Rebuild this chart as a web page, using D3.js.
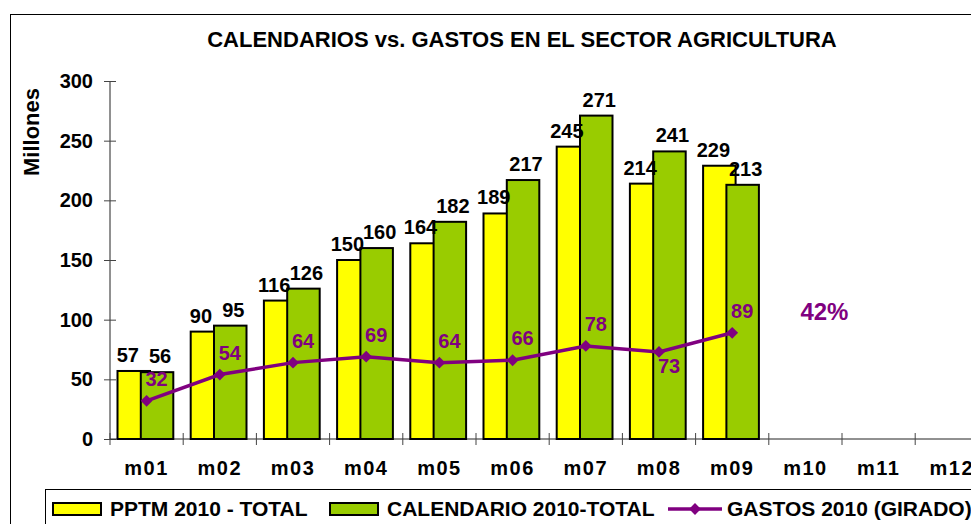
<!DOCTYPE html>
<html>
<head>
<meta charset="utf-8">
<script src="https://cdn.jsdelivr.net/npm/d3@7"></script>
<style>
  body { margin: 0; background: #fff; }
  svg { display: block; font-family: "Liberation Sans", Arial, sans-serif; }
  text { font-weight: bold; }
</style>
</head>
<body>
<svg id="chart"></svg>
<script>
// data (millones)
const months = ["m01", "m02", "m03", "m04", "m05", "m06", "m07", "m08", "m09", "m10", "m11", "m12"];
const pptm = [57, 90, 116, 150, 164, 189, 245, 214, 229];
const calendario = [56, 95, 126, 160, 182, 217, 271, 241, 213];
const gastos = [32, 54, 64, 69, 64, 66, 78, 73, 89];
const gastosBelow = ["m08"];          // labels that sit under the marker
const yTicks = [0, 50, 100, 150, 200, 250, 300];
const shareLabel = "42%";

const W = 971, H = 524;
const svg = d3.select("#chart").attr("width", W).attr("height", H);

// outer chart frame (runs off the right/bottom edge)
svg.append("rect")
  .attr("x", 10.5).attr("y", 14.5)
  .attr("width", 1000).attr("height", 600)
  .attr("fill", "#fff").attr("stroke", "#000");

svg.append("text")
  .attr("x", 522).attr("y", 47)
  .attr("text-anchor", "middle")
  .style("font-size", "22px")
  .text("CALENDARIOS vs. GASTOS EN EL SECTOR AGRICULTURA");

const x = d3.scaleBand().domain(months).range([110, 110 + 12 * 73.2]);
const y = d3.scaleLinear().domain([0, 300]).range([439, 81]);

const barW = 32.5, offY = 7.5, offG = 30.8;

// y axis with cross ticks
const yAxis = svg.append("g")
  .attr("transform", "translate(110,0)")
  .call(d3.axisLeft(y).tickValues(yTicks).tickSize(6).tickPadding(11));
yAxis.select(".domain").attr("d", `M0,${y(300)}V${y(0)}`).attr("stroke", "#222");
yAxis.selectAll(".tick line").attr("x1", -6).attr("x2", 6).attr("stroke", "#444");
yAxis.selectAll(".tick text")
  .attr("fill", "#000")
  .style("font-size", "20px")
  .style("font-family", "Liberation Sans, Arial, sans-serif");

svg.append("text")
  .attr("transform", "translate(39,132) rotate(-90)")
  .attr("text-anchor", "middle")
  .style("font-size", "22px")
  .text("Millones");

// x axis: labels at band centres, ticks on band boundaries
const xAxis = svg.append("g")
  .attr("transform", `translate(0,${y(0)})`)
  .call(d3.axisBottom(x).tickSize(0).tickPadding(22));
xAxis.select(".domain").attr("d", `M110,0H${W + 20}`).attr("stroke", "#222");
xAxis.selectAll(".tick text")
  .attr("fill", "#000")
  .style("font-size", "20px")
  .style("letter-spacing", "1.5px")
  .style("font-family", "Liberation Sans, Arial, sans-serif");
xAxis.selectAll("line.bound")
  .data(months)
  .enter().append("line")
  .attr("class", "bound")
  .attr("x1", d => x(d)).attr("x2", d => x(d))
  .attr("y1", -6).attr("y2", 6)
  .attr("stroke", "#444");

// bars
svg.append("g").selectAll("rect")
  .data(pptm)
  .enter().append("rect")
  .attr("x", (d, i) => x(months[i]) + offY)
  .attr("y", d => y(d))
  .attr("width", barW)
  .attr("height", d => y(0) - y(d))
  .attr("fill", "#ffff00")
  .attr("stroke", "#000")
  .attr("stroke-width", 2);

svg.append("g").selectAll("rect")
  .data(calendario)
  .enter().append("rect")
  .attr("x", (d, i) => x(months[i]) + offG)
  .attr("y", d => y(d))
  .attr("width", barW)
  .attr("height", d => y(0) - y(d))
  .attr("fill", "#99cc00")
  .attr("stroke", "#000")
  .attr("stroke-width", 2);

// bar value labels
svg.append("g").selectAll("text")
  .data(pptm)
  .enter().append("text")
  .attr("x", (d, i) => x(months[i]) + offY + barW / 2 - 6)
  .attr("y", d => y(d) - 9)
  .attr("text-anchor", "middle")
  .style("font-size", "20px")
  .text(d => d);

svg.append("g").selectAll("text")
  .data(calendario)
  .enter().append("text")
  .attr("x", (d, i) => x(months[i]) + offG + barW / 2 + 3)
  .attr("y", d => y(d) - 9)
  .attr("text-anchor", "middle")
  .style("font-size", "20px")
  .text(d => d);

// gastos line
const cx = (d, i) => x(months[i]) + x.bandwidth() / 2;
const line = d3.line().x(cx).y(d => y(d));
svg.append("path")
  .datum(gastos)
  .attr("d", line)
  .attr("fill", "none")
  .attr("stroke", "#800080")
  .attr("stroke-width", 3.5);

svg.append("g").selectAll("path")
  .data(gastos)
  .enter().append("path")
  .attr("transform", (d, i) => `translate(${cx(d, i)},${y(d)}) rotate(45)`)
  .attr("d", d3.symbol(d3.symbolSquare, 70))
  .attr("fill", "#800080");

svg.append("g").selectAll("text")
  .data(gastos)
  .enter().append("text")
  .attr("x", (d, i) => cx(d, i) + 10)
  .attr("y", (d, i) => gastosBelow.includes(months[i]) ? y(d) + 21 : y(d) - 15)
  .attr("text-anchor", "middle")
  .attr("fill", "#800080")
  .style("font-size", "20px")
  .text(d => d);

svg.append("text")
  .attr("x", x("m10") + x.bandwidth() / 2 + 19)
  .attr("y", y(100))
  .attr("text-anchor", "middle")
  .attr("fill", "#800080")
  .style("font-size", "24px")
  .text(shareLabel);

// legend
const lg = svg.append("g");
lg.append("rect")
  .attr("x", 45.5).attr("y", 489.5)
  .attr("width", 1000).attr("height", 100)
  .attr("fill", "#fff").attr("stroke", "#000");

const swatches = [
  { label: "PPTM 2010 - TOTAL", fill: "#ffff00", x: 53 },
  { label: "CALENDARIO 2010-TOTAL", fill: "#99cc00", x: 330 }
];
swatches.forEach(s => {
  lg.append("rect")
    .attr("x", s.x).attr("y", 503)
    .attr("width", 48).attr("height", 12)
    .attr("fill", s.fill).attr("stroke", "#000").attr("stroke-width", 2);
  lg.append("text")
    .attr("x", s.x + 57).attr("y", 516)
    .style("font-size", "21px")
    .text(s.label);
});
lg.append("line")
  .attr("x1", 668).attr("x2", 722)
  .attr("y1", 509).attr("y2", 509)
  .attr("stroke", "#800080").attr("stroke-width", 3.5);
lg.append("path")
  .attr("transform", "translate(695,509) rotate(45)")
  .attr("d", d3.symbol(d3.symbolSquare, 70))
  .attr("fill", "#800080");
lg.append("text")
  .attr("x", 727).attr("y", 516)
  .style("font-size", "21px")
  .text("GASTOS 2010 (GIRADO)");
</script>
</body>
</html>
